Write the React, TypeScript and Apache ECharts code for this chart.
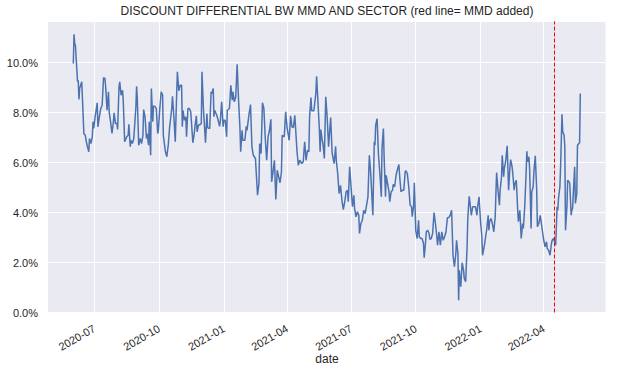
import React, { useEffect, useRef } from 'react';
import * as echarts from 'echarts';

const title = 'DISCOUNT DIFFERENTIAL BW MMD AND SECTOR (red line= MMD added)';
const xAxisName = 'date';
const mmdAddedDate = '2022-04-16';
const xRange = ['2020-04-26', '2022-06-28'];
const xTickLabels = ['2020-07', '2020-10', '2021-01', '2021-04', '2021-07', '2021-10', '2022-01', '2022-04'];
const yMax = 11.65;
const yInterval = 2;

const dates = [
  '2020-06-01','2020-06-02','2020-06-03','2020-06-04','2020-06-07','2020-06-08','2020-06-09','2020-06-10','2020-06-13','2020-06-16',
  '2020-06-18','2020-06-20','2020-06-23','2020-06-24','2020-06-26','2020-06-28','2020-06-29','2020-06-30','2020-07-02','2020-07-05',
  '2020-07-06','2020-07-08','2020-07-10','2020-07-12','2020-07-14','2020-07-16','2020-07-17','2020-07-19','2020-07-21','2020-07-22',
  '2020-07-24','2020-07-26','2020-07-28','2020-07-29','2020-07-31','2020-08-02','2020-08-03','2020-08-05','2020-08-06','2020-08-08',
  '2020-08-10','2020-08-11','2020-08-13','2020-08-16','2020-08-18','2020-08-19','2020-08-21','2020-08-22','2020-08-24','2020-08-26',
  '2020-08-29','2020-08-30','2020-08-31','2020-09-02','2020-09-04','2020-09-06','2020-09-08','2020-09-09','2020-09-11','2020-09-13',
  '2020-09-14','2020-09-16','2020-09-17','2020-09-19','2020-09-20','2020-09-22','2020-09-23','2020-09-25','2020-09-27','2020-09-29',
  '2020-09-30','2020-10-02','2020-10-04','2020-10-06','2020-10-07','2020-10-10','2020-10-12','2020-10-14','2020-10-16','2020-10-19',
  '2020-10-20','2020-10-22','2020-10-24','2020-10-26','2020-10-27','2020-10-29','2020-10-31','2020-11-02','2020-11-03','2020-11-04',
  '2020-11-06','2020-11-08','2020-11-09','2020-11-11','2020-11-13','2020-11-15','2020-11-18','2020-11-20','2020-11-21','2020-11-23',
  '2020-11-24','2020-11-26','2020-11-28','2020-11-30','2020-12-01','2020-12-03','2020-12-06','2020-12-08','2020-12-09','2020-12-12',
  '2020-12-14','2020-12-15','2020-12-17','2020-12-18','2020-12-19','2020-12-22','2020-12-24','2020-12-26','2020-12-27','2020-12-29',
  '2020-12-31','2021-01-01','2021-01-03','2021-01-05','2021-01-06','2021-01-09','2021-01-11','2021-01-13','2021-01-14','2021-01-16',
  '2021-01-18','2021-01-20','2021-01-22','2021-01-24','2021-01-25','2021-01-27','2021-01-28','2021-01-31','2021-02-02','2021-02-03',
  '2021-02-06','2021-02-08','2021-02-10','2021-02-12','2021-02-15','2021-02-18','2021-02-20','2021-02-21','2021-02-23','2021-02-25',
  '2021-02-27','2021-03-01','2021-03-03','2021-03-05','2021-03-07','2021-03-09','2021-03-10','2021-03-12','2021-03-14','2021-03-16',
  '2021-03-18','2021-03-20','2021-03-22','2021-03-24','2021-03-25','2021-03-28','2021-03-30','2021-04-01','2021-04-04','2021-04-06',
  '2021-04-08','2021-04-10','2021-04-12','2021-04-14','2021-04-15','2021-04-17','2021-04-19','2021-04-22','2021-04-24','2021-04-26',
  '2021-04-28','2021-04-30','2021-05-02','2021-05-03','2021-05-05','2021-05-06','2021-05-09','2021-05-10','2021-05-12','2021-05-13',
  '2021-05-15','2021-05-17','2021-05-18','2021-05-19','2021-05-21','2021-05-22','2021-05-24','2021-05-26','2021-05-28','2021-05-30',
  '2021-05-31','2021-06-02','2021-06-04','2021-06-05','2021-06-07','2021-06-09','2021-06-10','2021-06-12','2021-06-14','2021-06-16',
  '2021-06-18','2021-06-20','2021-06-22','2021-06-24','2021-06-26','2021-06-27','2021-06-29','2021-07-01','2021-07-03','2021-07-05',
  '2021-07-06','2021-07-08','2021-07-10','2021-07-12','2021-07-13','2021-07-15','2021-07-17','2021-07-19','2021-07-21','2021-07-23',
  '2021-07-25','2021-07-27','2021-07-29','2021-07-31','2021-08-01','2021-08-03','2021-08-04','2021-08-05','2021-08-07','2021-08-09',
  '2021-08-11','2021-08-13','2021-08-14','2021-08-16','2021-08-17','2021-08-19','2021-08-20','2021-08-22','2021-08-24','2021-08-25',
  '2021-08-27','2021-08-29','2021-08-30','2021-09-01','2021-09-03','2021-09-05','2021-09-07','2021-09-08','2021-09-10','2021-09-12',
  '2021-09-14','2021-09-16','2021-09-17','2021-09-19','2021-09-21','2021-09-23','2021-09-25','2021-09-26','2021-09-28','2021-09-29',
  '2021-10-01','2021-10-03','2021-10-05','2021-10-06','2021-10-08','2021-10-10','2021-10-12','2021-10-13','2021-10-15','2021-10-16',
  '2021-10-18','2021-10-20','2021-10-21','2021-10-23','2021-10-25','2021-10-27','2021-10-29','2021-10-31','2021-11-01','2021-11-03',
  '2021-11-05','2021-11-07','2021-11-09','2021-11-11','2021-11-13','2021-11-15','2021-11-17','2021-11-19','2021-11-21','2021-11-22',
  '2021-11-23','2021-11-25','2021-11-27','2021-11-28','2021-11-30','2021-12-01','2021-12-02','2021-12-03','2021-12-04','2021-12-06',
  '2021-12-08','2021-12-09','2021-12-11','2021-12-13','2021-12-14','2021-12-16','2021-12-17','2021-12-19','2021-12-21','2021-12-23',
  '2021-12-25','2021-12-27','2021-12-28','2021-12-30','2022-01-01','2022-01-03','2022-01-04','2022-01-05','2022-01-07','2022-01-09',
  '2022-01-10','2022-01-12','2022-01-13','2022-01-14','2022-01-16','2022-01-18','2022-01-20','2022-01-22','2022-01-23','2022-01-24',
  '2022-01-26','2022-01-28','2022-01-29','2022-01-31','2022-02-01','2022-02-03','2022-02-04','2022-02-06','2022-02-08','2022-02-09',
  '2022-02-10','2022-02-12','2022-02-13','2022-02-15','2022-02-16','2022-02-18','2022-02-19','2022-02-21','2022-02-23','2022-02-24',
  '2022-02-26','2022-02-27','2022-02-28','2022-03-02','2022-03-03','2022-03-05','2022-03-07','2022-03-08','2022-03-09','2022-03-11',
  '2022-03-12','2022-03-14','2022-03-15','2022-03-17','2022-03-18','2022-03-20','2022-03-22','2022-03-23','2022-03-25','2022-03-27',
  '2022-03-28','2022-03-30','2022-04-01','2022-04-03','2022-04-05','2022-04-06','2022-04-08','2022-04-10','2022-04-12','2022-04-13',
  '2022-04-15','2022-04-17','2022-04-18','2022-04-20','2022-04-21','2022-04-22','2022-04-24','2022-04-25','2022-04-27','2022-04-28',
  '2022-04-30','2022-05-01','2022-05-02','2022-05-04','2022-05-05','2022-05-07','2022-05-08','2022-05-10','2022-05-11','2022-05-12',
  '2022-05-14','2022-05-15','2022-05-16','2022-05-18','2022-05-19','2022-05-21','2022-05-22','2022-05-23'
];

const values = [
  9.96,11.13,10.76,10.69,9.23,9.29,8.52,8.96,9.23,7.16,
  7.09,6.76,6.43,6.96,6.76,7.03,7.63,7.36,7.83,8.39,
  7.43,7.83,8.16,8.29,9.40,9.36,9.03,8.09,8.83,8.03,
  7.63,7.16,7.63,7.99,7.56,7.56,7.32,9.03,9.23,8.69,
  8.89,8.49,6.83,7.03,7.09,7.53,6.63,6.89,6.76,6.96,
  8.23,9.05,8.56,6.69,6.96,6.76,7.09,8.12,7.83,6.96,
  7.16,6.69,7.63,6.29,8.96,7.63,8.25,8.25,8.16,7.16,
  7.29,8.16,8.83,8.69,7.09,6.43,6.23,6.69,7.43,8.16,
  8.65,7.83,6.83,8.76,9.63,8.87,9.09,9.09,7.43,8.09,
  7.69,7.83,7.03,8.16,8.16,8.03,6.79,7.16,7.45,7.87,
  7.23,7.49,7.52,7.56,9.63,8.16,6.79,7.96,7.39,7.36,
  8.83,8.76,8.96,7.83,8.09,7.89,7.69,7.45,7.63,8.43,
  7.43,7.69,7.69,7.03,8.09,8.16,9.09,8.49,8.83,8.43,
  8.63,9.93,8.49,7.36,6.43,7.29,6.89,6.89,7.45,7.29,
  7.96,8.32,6.63,6.29,6.16,4.69,5.16,6.76,6.36,8.39,
  8.16,6.96,6.09,7.03,7.29,7.73,5.23,5.63,6.09,4.52,
  5.69,5.43,5.19,5.63,7.09,7.03,8.03,7.40,6.89,7.87,
  7.43,7.40,7.89,6.96,6.49,5.89,6.09,5.96,6.03,6.83,
  6.09,6.49,6.43,7.83,8.60,8.07,8.07,8.29,8.79,9.45,
  8.36,7.29,6.43,7.32,6.89,6.76,6.16,8.63,7.83,6.63,
  6.63,7.80,6.43,6.23,5.96,6.65,6.09,5.56,4.76,5.09,
  4.49,4.12,4.43,4.83,4.89,4.43,5.83,5.03,4.23,4.69,
  4.16,3.83,4.03,3.89,3.16,3.56,3.69,4.09,3.96,4.29,
  4.63,6.29,5.56,4.43,3.89,6.83,6.69,7.49,7.76,6.29,
  5.56,4.63,6.56,7.36,6.23,4.63,5.49,5.16,4.83,4.43,
  4.83,4.89,5.13,5.03,5.49,5.72,5.92,5.49,4.83,4.89,
  4.89,5.63,5.67,5.56,5.03,4.29,4.23,3.83,4.29,5.19,
  3.29,2.96,3.69,3.03,2.96,2.96,2.76,2.19,2.83,3.23,
  3.29,3.16,2.93,2.96,3.16,4.00,3.56,3.03,2.69,3.23,
  2.69,3.23,2.89,3.03,3.23,3.79,3.80,3.89,4.09,3.16,
  2.29,1.83,2.36,2.89,2.36,0.49,1.69,1.29,1.03,1.99,
  1.69,1.36,1.23,2.63,3.76,4.65,4.43,3.89,4.23,4.23,
  4.23,3.89,4.23,4.63,3.69,3.03,2.29,2.29,2.76,3.16,
  3.32,3.89,3.29,3.63,3.76,3.56,3.23,3.83,4.76,5.60,
  4.89,4.29,4.89,5.43,6.29,5.43,5.76,6.09,6.67,5.83,
  4.89,5.83,6.12,5.83,5.56,4.89,5.16,5.29,4.09,3.63,
  4.09,3.56,2.96,3.56,3.36,4.23,5.63,6.45,6.03,6.23,
  5.69,3.36,4.83,5.03,5.63,6.27,4.89,3.43,3.56,3.89,
  3.69,3.29,2.89,2.63,2.83,2.56,2.49,2.29,2.76,2.89,
  2.96,2.79,2.69,4.23,4.09,4.56,5.03,5.83,7.93,7.23,
  7.09,6.63,3.29,4.23,5.29,5.23,5.16,3.89,4.09,4.16,
  5.29,5.83,4.36,4.76,6.69,6.76,6.79,8.76
];

const toTime = (s: string): number => {
  const [y, m, d] = s.split('-').map(Number);
  return new Date(y, m - 1, d || 1).getTime();
};

export default function App() {
  const ref = useRef<HTMLDivElement>(null);

  useEffect(() => {
    if (!ref.current) return;
    const chart = echarts.init(ref.current, null, { renderer: 'svg' });
    const tickValues = xTickLabels.map(toTime);
    const font = "'Liberation Sans', Arial, sans-serif";
    const textColor = '#262626';

    chart.setOption({
      animation: false,
      backgroundColor: '#ffffff',
      textStyle: { fontFamily: font },
      grid: {
        left: 48,
        right: 13.4,
        top: 21.3,
        bottom: 61.5,
        show: true,
        backgroundColor: '#EAEAF2',
        borderWidth: 0,
        containLabel: false,
        outerBoundsMode: 'none',
      },
      graphic: [
        {
          type: 'text',
          x: 327,
          y: 11,
          style: {
            text: title,
            fill: textColor,
            font: `12px ${font}`,
            textAlign: 'center',
            textVerticalAlign: 'middle',
          },
        },
        {
          type: 'text',
          x: 327,
          y: 359,
          style: {
            text: xAxisName,
            fill: textColor,
            font: `12px ${font}`,
            textAlign: 'center',
            textVerticalAlign: 'middle',
          },
        },
      ],
      xAxis: {
        type: 'value',
        min: toTime(xRange[0]),
        max: toTime(xRange[1]),
        axisLine: { show: false },
        axisTick: { show: false, customValues: tickValues },
        axisLabel: {
          customValues: tickValues,
          rotate: 30,
          margin: 15,
          color: textColor,
          fontSize: 11,
          fontFamily: font,
          formatter: (v: number) => {
            const d = new Date(v);
            const m = d.getMonth() + 1;
            return `${d.getFullYear()}-${m < 10 ? '0' + m : m}`;
          },
        },
        splitLine: { show: true, lineStyle: { color: '#ffffff', width: 1 } },
      },
      yAxis: {
        type: 'value',
        min: 0,
        max: yMax,
        interval: yInterval,
        axisLine: { show: false },
        axisTick: { show: false },
        axisLabel: {
          margin: 10,
          color: textColor,
          fontSize: 11,
          fontFamily: font,
          formatter: (v: number) => (Math.abs(v % yInterval) < 1e-9 ? `${v.toFixed(1)}%` : ''),
        },
        splitLine: { show: true, lineStyle: { color: '#ffffff', width: 1 } },
      },
      series: [
        {
          type: 'line',
          data: dates.map((d, i) => [toTime(d), values[i]]),
          showSymbol: false,
          symbol: 'none',
          lineStyle: { color: '#4C72B0', width: 1.5 },
          itemStyle: { color: '#4C72B0' },
          markLine: {
            silent: true,
            symbol: ['none', 'none'],
            label: { show: false },
            lineStyle: { color: '#FF0000', type: [4, 2], width: 1 },
            data: [{ xAxis: toTime(mmdAddedDate) }],
          },
        },
      ],
    });

    return () => chart.dispose();
  }, []);

  return <div ref={ref} style={{ position: 'fixed', left: 0, top: 0, width: 619, height: 374 }} />;
}
